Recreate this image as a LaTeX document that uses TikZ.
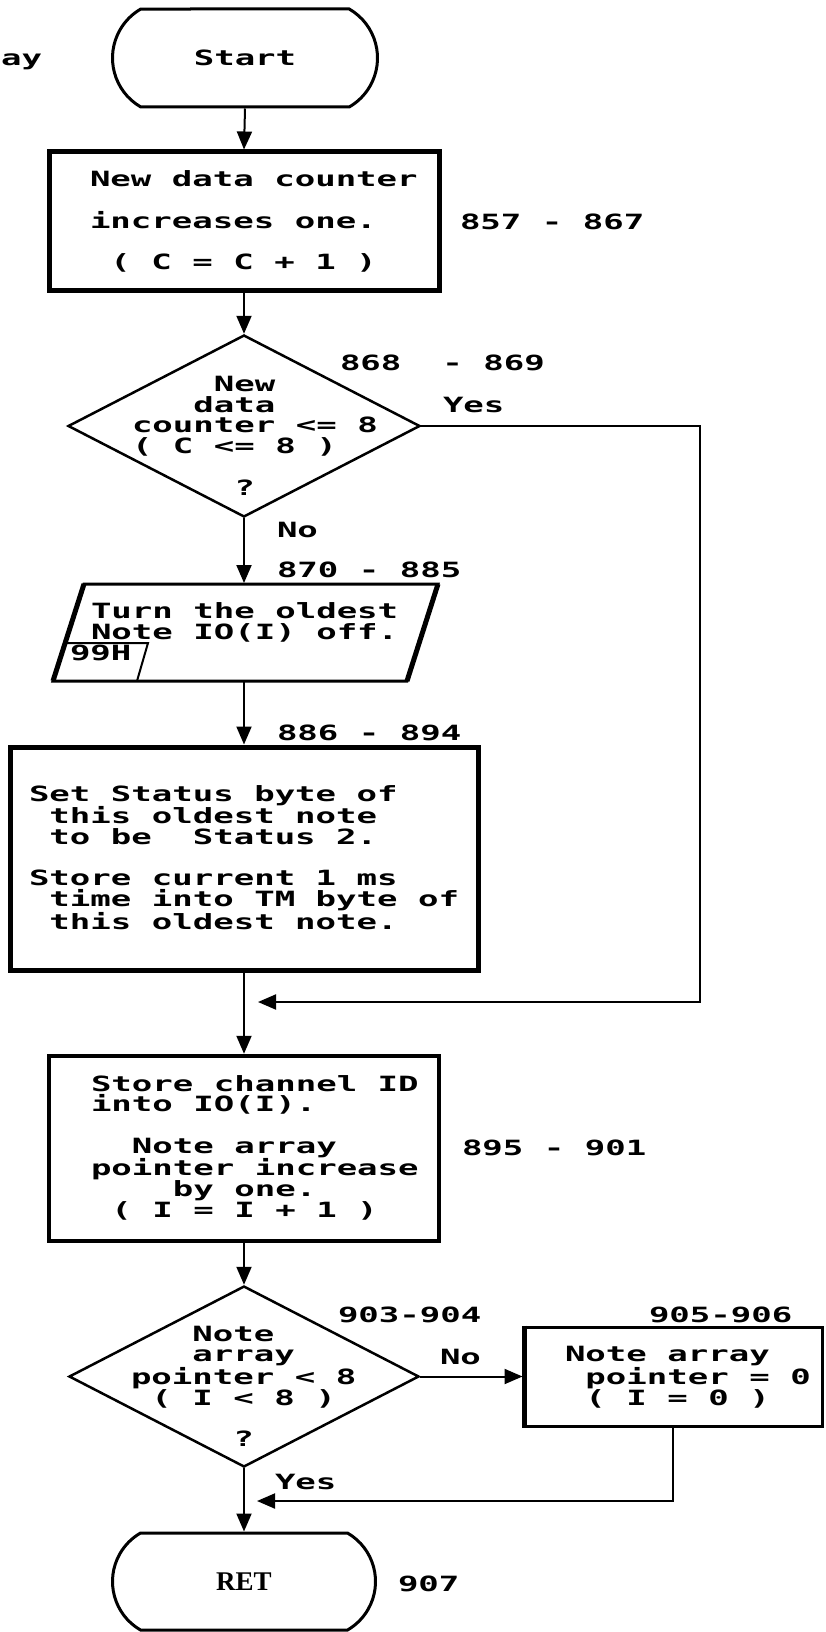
\documentclass[tikz,border=0pt]{standalone}
\usepackage{fontspec}
\usepackage{tikz}
\usetikzlibrary{arrows.meta,shapes.geometric,shapes.misc}
\newfontfamily\dotfont[FakeStretch=1.62]{DejaVu Sans Mono}
\newfontfamily\retfont{Liberation Serif}

\begin{document}
\begin{tikzpicture}[x=1pt,y=-1pt,line width=2pt,
  flow/.style={-{Triangle[length=18pt,width=15pt]}},
  procbox/.style={draw,line width=5pt,inner sep=0pt},
  thinbox/.style={draw,line width=3pt,inner sep=0pt},
  decide/.style={draw,diamond,line width=2.5pt,inner sep=0pt,minimum width=352pt,minimum height=182pt},
  term/.style={draw,rounded rectangle,rounded rectangle arc length=120,line width=3pt,inner sep=0pt,minimum width=265pt,minimum height=98pt},
  body/.style={font=\dotfont\bfseries\fontsize{21}{20.7}\selectfont,inner sep=0pt,align=left,anchor=base west},
  wide/.style={font=\dotfont\bfseries\fontsize{21}{41.5}\selectfont,inner sep=0pt,align=left,anchor=base west},
  tag/.style={font=\dotfont\bfseries\fontsize{21}{21}\selectfont,inner sep=0pt,anchor=base west}]
\useasboundingbox (0,0) rectangle (825,1632);

% start (the multi-line texts sit on the baseline of their last line)
\node[term,font=\dotfont\bfseries\fontsize{21}{21}\selectfont] (start) at (245,58) {Start};
\node[tag,anchor=base east] (arraytail) at (43,66) {ray};

% new data counter
\node[procbox,minimum width=390pt,minimum height=138pt] (count) at (244,221) {};
\node[wide] (counttext) at (89,269.5) {New data counter\\increases one.\\~( C = C + 1 )};
\node[tag] (countno) at (459,229.5) {857 - 867};

% C <= 8 ?
\node[decide] (full) at (244,426) {};
\node[body] (fulltext) at (131,495) {~~~~New\\~~~data\\counter <= 8\\( C <= 8 )\\[20.7pt]~~~~~?};
\node[tag] (fullno) at (339,370.5) {868~ - 869};
\node[body] (fullyes) at (442,412.5) {Yes};
\node[body] (fullnolbl) at (276,537.5) {No};

% turn note off
\coordinate (turn-n) at (244,583);
\coordinate (turn-s) at (244,681);
\draw[line width=3pt] (84,584) -- (438,584) -- (407,681) -- (53,681) -- cycle;
\draw[line width=5pt] (84,584) -- (53,681) (438,584) -- (407,681);
\draw[line width=2pt] (65,643) -- (148,643) -- (137,681);
\node[body] (turntext) at (90,639.5) {Turn the oldest\\Note IO(I) off.};
\node[body] (chip) at (69,660) {99H};
\node[tag] (turnno) at (276,577.5) {870 - 885};

% status 2
\node[procbox,minimum width=468pt,minimum height=223pt] (status) at (244,858.5) {};
\node[body] (statustext) at (28,929) {Set Status byte of\\~this oldest note\\~to be~ Status 2.\\[20.7pt]Store current 1 ms\\~time into TM byte of\\~this oldest note.};
\node[tag] (statusno) at (276,740.5) {886 - 894};

% store channel
\node[procbox,line width=4.5pt,minimum width=390pt,minimum height=185pt] (store) at (244,1148.5) {};
\node[body] (storetext) at (90,1217) {Store channel ID\\into IO(I).\\[20.7pt]~~Note array\\pointer increase\\~~~~by one.\\~( I = I + 1 )};
\node[tag] (storeno) at (461,1155.5) {895 - 901};

% I < 8 ?
\node[decide,minimum width=350pt,minimum height=181pt] (wrap) at (244,1376.5) {};
\node[body] (wraptext) at (130,1446.5) {~~~Note\\~~~array\\pointer < 8\\~( I < 8 )\\[20.7pt]~~~~~?};
\node[tag] (wrapno) at (337,1322.5) {903-904};
\node[body] (wrapnolbl) at (439,1364.5) {No};
\node[body] (wrapyes) at (274,1489.5) {Yes};

% I = 0
\node[thinbox,minimum width=298pt,minimum height=99pt] (reset) at (673,1376.5) {};
\draw[line width=5pt] ([xshift=1.5pt]reset.north west) -- ([xshift=1.5pt]reset.south west);
\node[body] (resettext) at (564,1405) {Note array\\~pointer = 0\\~( I = 0 )};
\node[tag] (resetno) at (648,1322.5) {905-906};

% return
\node[term,minimum width=263pt,minimum height=97pt,font=\retfont\bfseries\fontsize{27}{27}\selectfont] (ret) at (244,1581.5) {RET};
\node[tag] (retno) at (397,1591.5) {907};

% connectors
\coordinate (join1) at (258,1002);
\coordinate (join2) at (257,1501);
\draw[flow] (start.south) -- (count.north);
\draw[flow] (count.south) -- (full.north);
\draw[flow] (full.south) -- (turn-n);
\draw[flow] (turn-s) -- (status.north);
\draw[flow] (status.south) -- (store.north);
\draw[flow] (full.east) -- ++(279,0) |- (join1);
\draw[flow] (store.south) -- (wrap.north);
\draw[flow] (wrap.east) -- (reset.west);
\draw[flow] (reset.south) |- (join2);
\draw[flow] (wrap.south) -- (ret.north);
\end{tikzpicture}
\end{document}
